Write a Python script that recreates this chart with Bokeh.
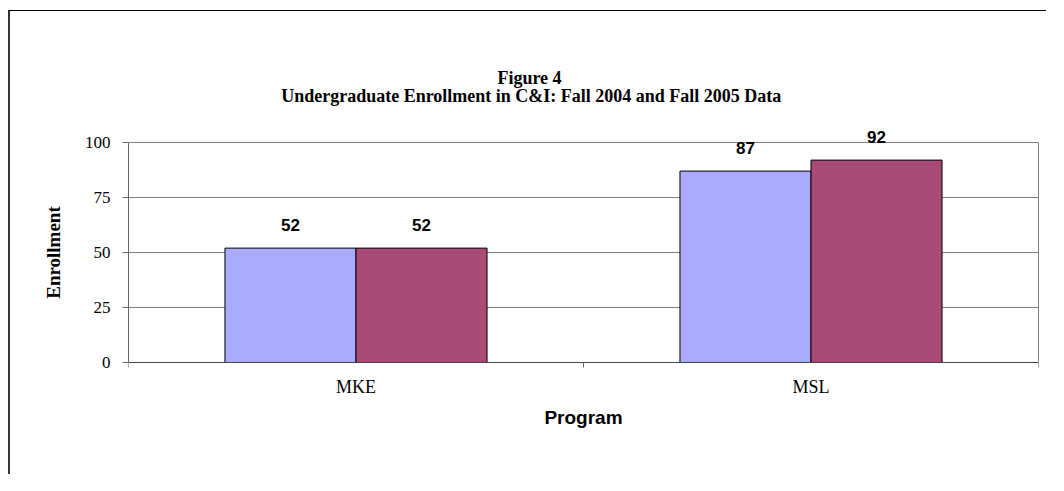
from bokeh.plotting import figure
from bokeh.models import ColumnDataSource, FixedTicker, LabelSet, Label, LinearAxis
from bokeh.transform import dodge
from bokeh.embed import file_html
from bokeh.resources import INLINE
from bokeh.core.properties import value

# ---- data ----
programs = ["MKE", "MSL"]
fall_2004 = [52, 87]
fall_2005 = [52, 92]
y_ticks = [0, 25, 50, 75, 100]
title_line1 = "Figure 4"
title_line2 = "Undergraduate Enrollment in C&I:  Fall 2004 and Fall 2005 Data"
y_label = "Enrollment"
x_label = "Program"

# ---- layout constants (canvas pixels) ----
W, H = 1038, 464
AREA_L, AREA_R = 118, 1028     # pixel of x = 0 and x = len(programs)
AREA_T, AREA_B = 131, 351      # pixel of y = 100 and y = 0
FRAME_T = 18
Y_MAX = 100

n = len(programs)
ppu = (AREA_B - AREA_T) / Y_MAX
y_start = -(H - AREA_B) / ppu
y_end = Y_MAX + (AREA_T - FRAME_T) / ppu


def px_x(px):
    return (px - AREA_L) / (AREA_R - AREA_L) * n


def px_y(py):
    return (AREA_B - py) / ppu


centers = [i + 0.5 for i in range(n)]
bounds = list(range(n + 1))

src = ColumnDataSource(dict(
    x=centers,
    f04=fall_2004,
    f05=fall_2005,
    l04=[str(v) for v in fall_2004],
    l05=[str(v) for v in fall_2005],
))

BAR_W = 0.288
OFF = 0.144

p = figure(width=W, height=H,
           x_range=(0, n), y_range=(y_start, y_end),
           output_backend="svg", toolbar_location=None,
           min_border_left=AREA_L, min_border_right=W - AREA_R,
           min_border_top=FRAME_T, min_border_bottom=0)
p.styles = {"margin-left": "8px", "margin-top": "10px",
            "border-left": "2px solid #333333", "border-top": "1px solid #000000"}
p.background_fill_color = "white"
p.border_fill_color = "white"
p.outline_line_color = None

p.vbar(x=dodge("x", -OFF), top="f04", width=BAR_W, source=src,
       fill_color="#AAAAFF", line_color="black", line_width=1)
p.vbar(x=dodge("x", OFF), top="f05", width=BAR_W, source=src,
       fill_color="#AA4A76", line_color="black", line_width=1)

for col, lab, off in (("f04", "l04", -OFF), ("f05", "l05", OFF)):
    p.add_layout(LabelSet(x=dodge("x", off), y=col, text=lab, source=src,
                          y_offset=17, text_align="center",
                          text_baseline="alphabetic",
                          text_font=value("Liberation Sans"),
                          text_font_style="bold", text_font_size="17px",
                          text_color="black"))

# titles
p.add_layout(Label(x=px_x(519), y=px_y(66), text=title_line1, text_align="center",
                   text_baseline="alphabetic", text_font="Liberation Serif",
                   text_font_style="bold", text_font_size="18px", text_color="black"))
p.add_layout(Label(x=px_x(523), y=px_y(84.5), text=title_line2, text_align="center",
                   text_baseline="alphabetic", text_font="Liberation Serif",
                   text_font_style="bold", text_font_size="18px", text_color="black"))

# grid
p.xgrid.visible = False
p.ygrid.grid_line_color = "#808080"
p.ygrid.ticker = FixedTicker(ticks=y_ticks)

# y axis
p.yaxis.ticker = FixedTicker(ticks=y_ticks)
p.yaxis.bounds = (0, Y_MAX)
p.yaxis.axis_line_color = "#666666"
p.yaxis.major_tick_line_color = "#666666"
p.yaxis.major_tick_out = 6
p.yaxis.major_tick_in = 0
p.yaxis.minor_tick_line_color = None
p.yaxis.major_label_text_font = "Liberation Serif"
p.yaxis.major_label_text_font_size = "17px"
p.yaxis.major_label_text_color = "black"
p.yaxis.major_label_standoff = 12
p.yaxis.axis_label = y_label
p.yaxis.axis_label_text_font = "Liberation Serif"
p.yaxis.axis_label_text_font_style = "bold"
p.yaxis.axis_label_text_font_size = "19px"
p.yaxis.axis_label_text_color = "black"
p.yaxis.axis_label_standoff = 18

# right edge of the plot area
right = LinearAxis(ticker=FixedTicker(ticks=[]), bounds=(0, Y_MAX),
                   axis_line_color="#808080", major_tick_line_color=None,
                   minor_tick_line_color=None, major_label_text_font_size="0px")
p.add_layout(right, "right")

# x axis (at y = 0)
p.xaxis.fixed_location = 0
p.xaxis.bounds = (0, n)
p.xaxis.ticker = FixedTicker(ticks=centers, minor_ticks=bounds)
p.xaxis.major_label_overrides = {c: name for c, name in zip(centers, programs)}
p.xaxis.axis_line_color = "#444444"
p.xaxis.major_tick_out = 0
p.xaxis.major_tick_in = 0
p.xaxis.minor_tick_out = 5
p.xaxis.minor_tick_in = 0
p.xaxis.minor_tick_line_color = "#666666"
p.xaxis.major_label_text_font = "Liberation Serif"
p.xaxis.major_label_text_font_size = "18px"
p.xaxis.major_label_text_color = "black"
p.xaxis.major_label_standoff = 9
p.xaxis.axis_label = x_label
p.xaxis.axis_label_text_font = "Liberation Sans"
p.xaxis.axis_label_text_font_style = "bold"
p.xaxis.axis_label_text_font_size = "19px"
p.xaxis.axis_label_text_color = "black"
p.xaxis.axis_label_standoff = 7

open("out.html", "w").write(file_html(p, INLINE))
